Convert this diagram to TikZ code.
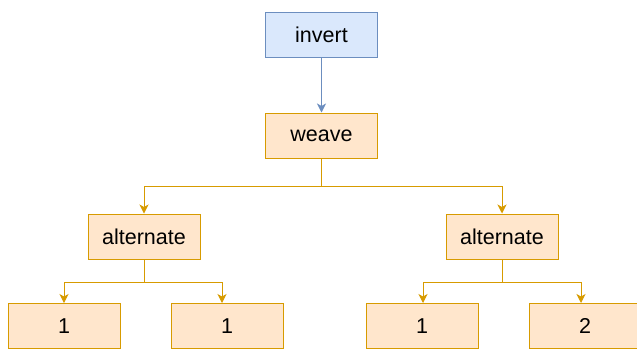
\documentclass[tikz,border=0pt]{standalone}
\usepackage{fontspec}
\setmainfont{Liberation Sans}
\usetikzlibrary{arrows.meta}
\definecolor{bfill}{HTML}{DAE8FC}
\definecolor{bline}{HTML}{6C8EBF}
\definecolor{ofill}{HTML}{FFE6CC}
\definecolor{oline}{HTML}{D79B00}
\begin{document}
\begin{tikzpicture}[x=1pt,y=-1pt,
  box/.style={draw, line width=1pt, minimum width=112pt, minimum height=45pt, inner sep=0pt,
    font=\fontsize{21.5}{26}\selectfont},
  bluebox/.style={box, fill=bfill, draw=bline},
  orangebox/.style={box, fill=ofill, draw=oline},
  link/.style={line width=1pt, -{Stealth[length=9pt,width=9pt,inset=2.5pt]}},
  olink/.style={link, draw=oline},
  blink/.style={link, draw=bline}]
\useasboundingbox (0,0) rectangle (637,349);
\clip (0,0) rectangle (637,349);
\node[bluebox] (invert) at (321.5,35) {invert};
\node[orangebox] (weave) at (321.5,135.5) {weave};
\node[orangebox] (altL) at (144,236.5) {alternate};
\node[orangebox] (altR) at (502,236.5) {alternate};
\node[orangebox] (l1) at (64,326) {1};
\node[orangebox] (l2) at (227,326) {1};
\node[orangebox] (l3) at (422,326) {1};
\node[orangebox] (l4) at (585,326) {2};
\draw[blink] (invert) -- (weave);
\draw[olink] (weave.south) -- ++(0,28) -| (altL.north);
\draw[olink] (weave.south) -- ++(0,28) -| (altR.north);
\draw[olink] (altL.south) -- ++(0,23) -| (l1.north);
\draw[olink] (altL.south) -- ++(0,23) -| ([xshift=-5pt]l2.north);
\draw[olink] (altR.south) -- ++(0,23) -| ([xshift=1pt]l3.north);
\draw[olink] (altR.south) -- ++(0,23) -| ([xshift=-4pt]l4.north);
\end{tikzpicture}
\end{document}
